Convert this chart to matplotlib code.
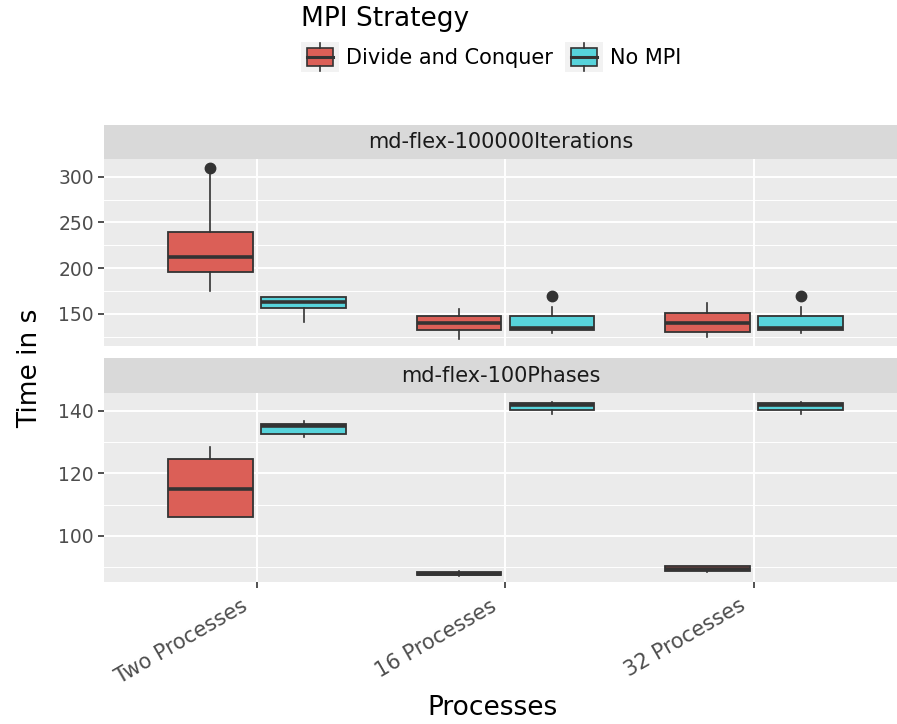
import matplotlib
matplotlib.use("Agg")
import matplotlib.pyplot as plt
from matplotlib.legend_handler import HandlerBase
from matplotlib.patches import Rectangle
from matplotlib.lines import Line2D
from matplotlib.transforms import ScaledTranslation

# categories and groups
PROCESSES = ["Two Processes", "16 Processes", "32 Processes"]
STRATEGIES = ["Divide and Conquer", "No MPI"]
COLORS = {"Divide and Conquer": "#db5f57", "No MPI": "#57d3db"}
PANELS = ["md-flex-100000Iterations", "md-flex-100Phases"]

# box stats: [whislo, q1, med, q3, whishi]
ITER_DNC = [[175.5, 195.9, 212.6, 239.9, 302.5],
            [122.7, 132.2, 139.8, 148.1, 155.1],
            [125.2, 130.3, 139.8, 151.4, 162.3]]
ITER_NOMPI = [[141.6, 156.5, 162.8, 168.9, 168.9],
              [128.9, 132.2, 135.0, 148.1, 157.3],
              [129.6, 132.2, 134.8, 148.1, 157.3]]
ITER_DNC_OUT = [[309.2], [], []]
ITER_NOMPI_OUT = [[], [170.0], [170.0]]

PHASE_DNC = [[105.9, 105.9, 115.0, 124.6, 128.5],
             [87.3, 87.5, 88.0, 88.6, 88.8],
             [88.5, 88.8, 89.5, 90.3, 90.5]]
PHASE_NOMPI = [[131.7, 132.7, 135.0, 135.7, 136.8],
               [138.9, 140.3, 141.9, 142.4, 142.9],
               [138.9, 140.3, 141.9, 142.4, 142.9]]
PHASE_DNC_OUT = [[], [], []]
PHASE_NOMPI_OUT = [[], [], []]

# y ticks per panel
ITER_TICKS = [150, 200, 250, 300]
ITER_MINOR = [125, 175, 225, 275]
PHASE_TICKS = [100, 120, 140]
PHASE_MINOR = [90, 110, 130]

DARK = "#333333"
W = 897
H = 724

fig = plt.figure(figsize=(W / 100, H / 100), dpi=100)


def fx(px):
    return px / W


def fy(py):
    return 1 - py / H


def make_stats(rows, outs):
    stats = []
    for r, o in zip(rows, outs):
        stats.append({"whislo": r[0], "q1": r[1], "med": r[2], "q3": r[3],
                      "whishi": r[4], "fliers": o})
    return stats


def draw_panel(ax, dnc, nompi, dnc_out, nompi_out, ticks, minor, ylim, show_x):
    ax.set_facecolor("#ebebeb")
    for s in ax.spines.values():
        s.set_visible(False)
    ax.set_xlim(0.386, 3.575)
    ax.set_ylim(*ylim)
    ax.set_yticks(ticks)
    ax.set_yticks(minor, minor=True)
    ax.set_xticks([1, 2, 3])
    ax.grid(True, which="major", color="white", linewidth=1.4)
    ax.grid(True, which="minor", axis="y", color="white", linewidth=0.7)
    ax.set_axisbelow(True)
    ax.tick_params(axis="y", which="major", length=4.5, width=1.2, color=DARK,
                   labelsize=13.5, labelcolor="#4d4d4d", pad=3)
    ax.tick_params(axis="y", which="minor", length=0)
    if show_x:
        ax.set_xticklabels(PROCESSES, rotation=30, ha="right", va="top")
        ax.tick_params(axis="x", length=4.5, width=1.2, color=DARK,
                       labelsize=15, labelcolor="#4d4d4d", pad=5.5)
        shift = ScaledTranslation(-5.7 / 100, 0, fig.dpi_scale_trans)
        for lab in ax.get_xticklabels():
            lab.set_transform(lab.get_transform() + shift)
    else:
        ax.tick_params(axis="x", length=0, labelbottom=False)

    pos = [1, 2, 3]
    for data, outs, off, name in [(dnc, dnc_out, -0.1875, STRATEGIES[0]),
                                  (nompi, nompi_out, 0.1875, STRATEGIES[1])]:
        ax.bxp(make_stats(data, outs), positions=[p + off for p in pos],
               widths=0.34, patch_artist=True, showcaps=False,
               boxprops=dict(facecolor=COLORS[name], edgecolor=DARK, linewidth=1.3),
               medianprops=dict(color=DARK, linewidth=2.6, solid_capstyle="butt"),
               whiskerprops=dict(color=DARK, linewidth=1.2),
               flierprops=dict(marker="o", markerfacecolor=DARK,
                               markeredgecolor=DARK, markersize=7.5),
               manage_ticks=False)


def draw_strip(rect, label):
    sa = fig.add_axes(rect)
    sa.set_facecolor("#d9d9d9")
    for s in sa.spines.values():
        s.set_visible(False)
    sa.set_xticks([])
    sa.set_yticks([])
    sa.text(0.5, 0.5, label, ha="center", va="center", fontsize=15,
            color="#1a1a1a", transform=sa.transAxes)


left = fx(104.3)
width = 1 - left

ax1 = fig.add_axes([left, fy(346), width, (346 - 159) / H])
draw_panel(ax1, ITER_DNC, ITER_NOMPI, ITER_DNC_OUT, ITER_NOMPI_OUT,
           ITER_TICKS, ITER_MINOR, (115.0, 319.3), False)
draw_strip([left, fy(159), width, (159 - 125) / H], PANELS[0])

ax2 = fig.add_axes([left, fy(581.7), width, (581.7 - 392.7) / H])
draw_panel(ax2, PHASE_DNC, PHASE_NOMPI, PHASE_DNC_OUT, PHASE_NOMPI_OUT,
           PHASE_TICKS, PHASE_MINOR, (85.4, 145.75), True)
draw_strip([left, fy(392.7), width, (392.7 - 358.3) / H], PANELS[1])

fig.text(fx(30), fy(368), "Time in s", rotation=90, ha="center", va="center",
         fontsize=19)
fig.text(fx(492), fy(708), "Processes", ha="center", va="center", fontsize=19)


# legend key drawn as a tiny box plot
class BoxKey(HandlerBase):
    def create_artists(self, legend, orig, xd, yd, w, h, fs, trans):
        x0, y0 = -xd, -yd
        bg = Rectangle((x0, y0), w, h, facecolor="#f2f2f2", edgecolor="none",
                       transform=trans)
        bx = Rectangle((x0 + w * 0.15, y0 + h * 0.2), w * 0.7, h * 0.6,
                       facecolor=orig.get_facecolor(), edgecolor=DARK,
                       linewidth=1.2, transform=trans)
        med = Line2D([x0 + w * 0.15, x0 + w * 0.85], [y0 + h / 2] * 2,
                     color=DARK, linewidth=2.2, transform=trans)
        wt = Line2D([x0 + w / 2] * 2, [y0 + h * 0.8, y0 + h * 0.97],
                    color=DARK, linewidth=1.2, transform=trans)
        wb = Line2D([x0 + w / 2] * 2, [y0 + h * 0.03, y0 + h * 0.2],
                    color=DARK, linewidth=1.2, transform=trans)
        return [bg, bx, med, wt, wb]


handles = [Rectangle((0, 0), 1, 1, facecolor=COLORS[s]) for s in STRATEGIES]
leg = fig.legend(handles, STRATEGIES, title="MPI Strategy", ncol=2,
                 loc="upper left", bbox_to_anchor=(fx(301), fy(6)),
                 frameon=False, fontsize=15, title_fontsize=19,
                 handler_map={Rectangle: BoxKey()},
                 handlelength=1.8, handleheight=1.8, handletextpad=0.35,
                 columnspacing=0.6, borderaxespad=0, borderpad=0,
                 alignment="left")

fig.savefig("out.png", dpi=100)
